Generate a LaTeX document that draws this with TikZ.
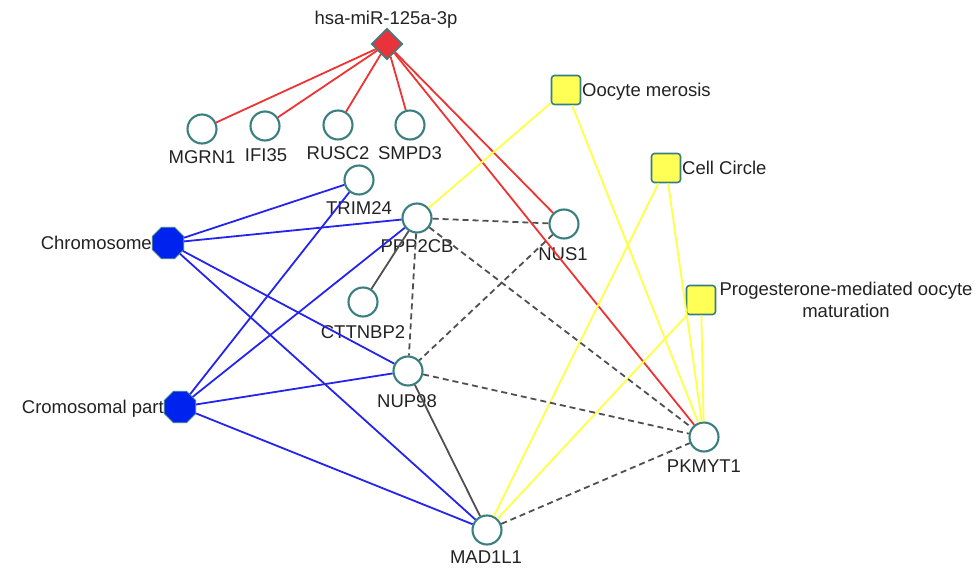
\documentclass[tikz,border=0pt]{standalone}
\usepackage{fontspec}
\setmainfont{Liberation Sans}
\usetikzlibrary{shapes.geometric}
\definecolor{tealb}{HTML}{3A7F80}
\definecolor{redE}{HTML}{EE3333}
\definecolor{redF}{HTML}{E8333D}
\definecolor{yelE}{HTML}{FFFF44}
\definecolor{yelF}{HTML}{FFFF55}
\definecolor{bluE}{HTML}{2424EE}
\definecolor{bluF}{HTML}{0022EE}
\definecolor{grayE}{HTML}{505050}
\definecolor{txt}{HTML}{222222}
\begin{document}
\begin{tikzpicture}[x=1pt,y=-1pt,
  font=\fontsize{18.5}{22}\selectfont,
  gene/.style={circle,draw=tealb,line width=2.1pt,fill=white,minimum size=29pt,inner sep=0pt},
  mirna/.style={diamond,draw=tealb,line width=1.6pt,fill=redF,minimum width=31pt,minimum height=31pt,inner sep=0pt},
  goterm/.style={regular polygon,regular polygon sides=8,draw=tealb,line width=0.8pt,fill=bluF,minimum size=34pt,inner sep=0pt},
  pathway/.style={rectangle,rounded corners=3pt,draw=tealb,line width=1.6pt,fill=yelF,minimum size=29pt,inner sep=0pt},
  lbl/.style={text=txt,inner sep=0pt},
  redline/.style={draw=redE,line width=1.8pt},
  yelline/.style={draw=yelE,line width=1.8pt},
  blueline/.style={draw=bluE,line width=1.8pt},
  darkline/.style={draw=grayE,line width=1.8pt},
  dashline/.style={draw=grayE,line width=1.8pt,dash pattern=on 6pt off 4pt}
]
\useasboundingbox (0,0) rectangle (980,569);

% labels
\node[lbl,anchor=base] (lmir) at (386,25) {hsa-miR-125a-3p};
\node[lbl,anchor=base] (lMGRN1) at (202,164) {MGRN1};
\node[lbl,anchor=base] (lIFI35) at (266,162) {IFI35};
\node[lbl,anchor=base] (lRUSC2) at (338,160) {RUSC2};
\node[lbl,anchor=base] (lSMPD3) at (410,160) {SMPD3};
\node[lbl,anchor=base] (lTRIM24) at (359,215) {TRIM24};
\node[lbl,anchor=base] (lPPP2CB) at (417,253) {PPP2CB};
\node[lbl,anchor=base] (lNUS1) at (563,261) {NUS1};
\node[lbl,anchor=base] (lCTTNBP2) at (363,338) {CTTNBP2};
\node[lbl,anchor=base] (lNUP98) at (407,407) {NUP98};
\node[lbl,anchor=base] (lMAD1L1) at (486,563) {MAD1L1};
\node[lbl,anchor=base] (lPKMYT1) at (704,472) {PKMYT1};
\node[lbl,anchor=base east] (lchrom) at (152,250) {Chromosome};
\node[lbl,anchor=base east] (lcpart) at (164,413) {Cromosomal part};
\node[lbl,anchor=base west] (loocyte) at (582,97) {Oocyte merosis};
\node[lbl,anchor=base west] (lcellc) at (682,175) {Cell Circle};
\node[lbl,anchor=north,align=center] (lprog) at (846,282) {Progesterone-mediated oocyte\\maturation};

% nodes
\node[mirna] (mir) at (387,44) {};
\node[gene] (MGRN1) at (202,129) {};
\node[gene] (IFI35) at (265,126) {};
\node[gene] (RUSC2) at (338,125) {};
\node[gene] (SMPD3) at (410,125) {};
\node[gene] (TRIM24) at (359,180) {};
\node[gene] (PPP2CB) at (417,218) {};
\node[gene] (NUS1) at (564,224) {};
\node[gene] (CTTNBP2) at (363,302) {};
\node[gene] (NUP98) at (408,371) {};
\node[gene] (MAD1L1) at (487,530) {};
\node[gene] (PKMYT1) at (704,437) {};
\node[goterm] (chrom) at (168,243) {};
\node[goterm] (cpart) at (180,407) {};
\node[pathway] (oocyte) at (566,90) {};
\node[pathway] (cellc) at (666,168) {};
\node[pathway] (prog) at (701,300) {};

% edges
\draw[redline] (mir) -- (MGRN1);
\draw[redline] (mir) -- (IFI35);
\draw[redline] (mir) -- (RUSC2);
\draw[redline] (mir) -- (SMPD3);
\draw[redline] (mir) -- (NUS1);
\draw[redline] (mir) -- (PKMYT1);

\draw[yelline] (oocyte) -- (PPP2CB);
\draw[yelline] (oocyte) -- (PKMYT1);
\draw[yelline] (cellc) -- (MAD1L1);
\draw[yelline] (cellc) -- (PKMYT1);
\draw[yelline] (prog) -- (MAD1L1);
\draw[yelline] (prog) -- (PKMYT1);

\draw[blueline] (chrom) -- (TRIM24);
\draw[blueline] (chrom) -- (PPP2CB);
\draw[blueline] (chrom) -- (NUP98);
\draw[blueline] (chrom) -- (MAD1L1);
\draw[blueline] (cpart) -- (TRIM24);
\draw[blueline] (cpart) -- (PPP2CB);
\draw[blueline] (cpart) -- (NUP98);
\draw[blueline] (cpart) -- (MAD1L1);

\draw[darkline] (PPP2CB) -- (CTTNBP2);
\draw[darkline] (NUP98) -- (MAD1L1);

\draw[dashline] (PPP2CB) -- (NUS1);
\draw[dashline] (PPP2CB) -- (NUP98);
\draw[dashline] (PPP2CB) -- (PKMYT1);
\draw[dashline] (NUS1) -- (NUP98);
\draw[dashline] (NUP98) -- (PKMYT1);
\draw[dashline] (MAD1L1) -- (PKMYT1);
\end{tikzpicture}
\end{document}
